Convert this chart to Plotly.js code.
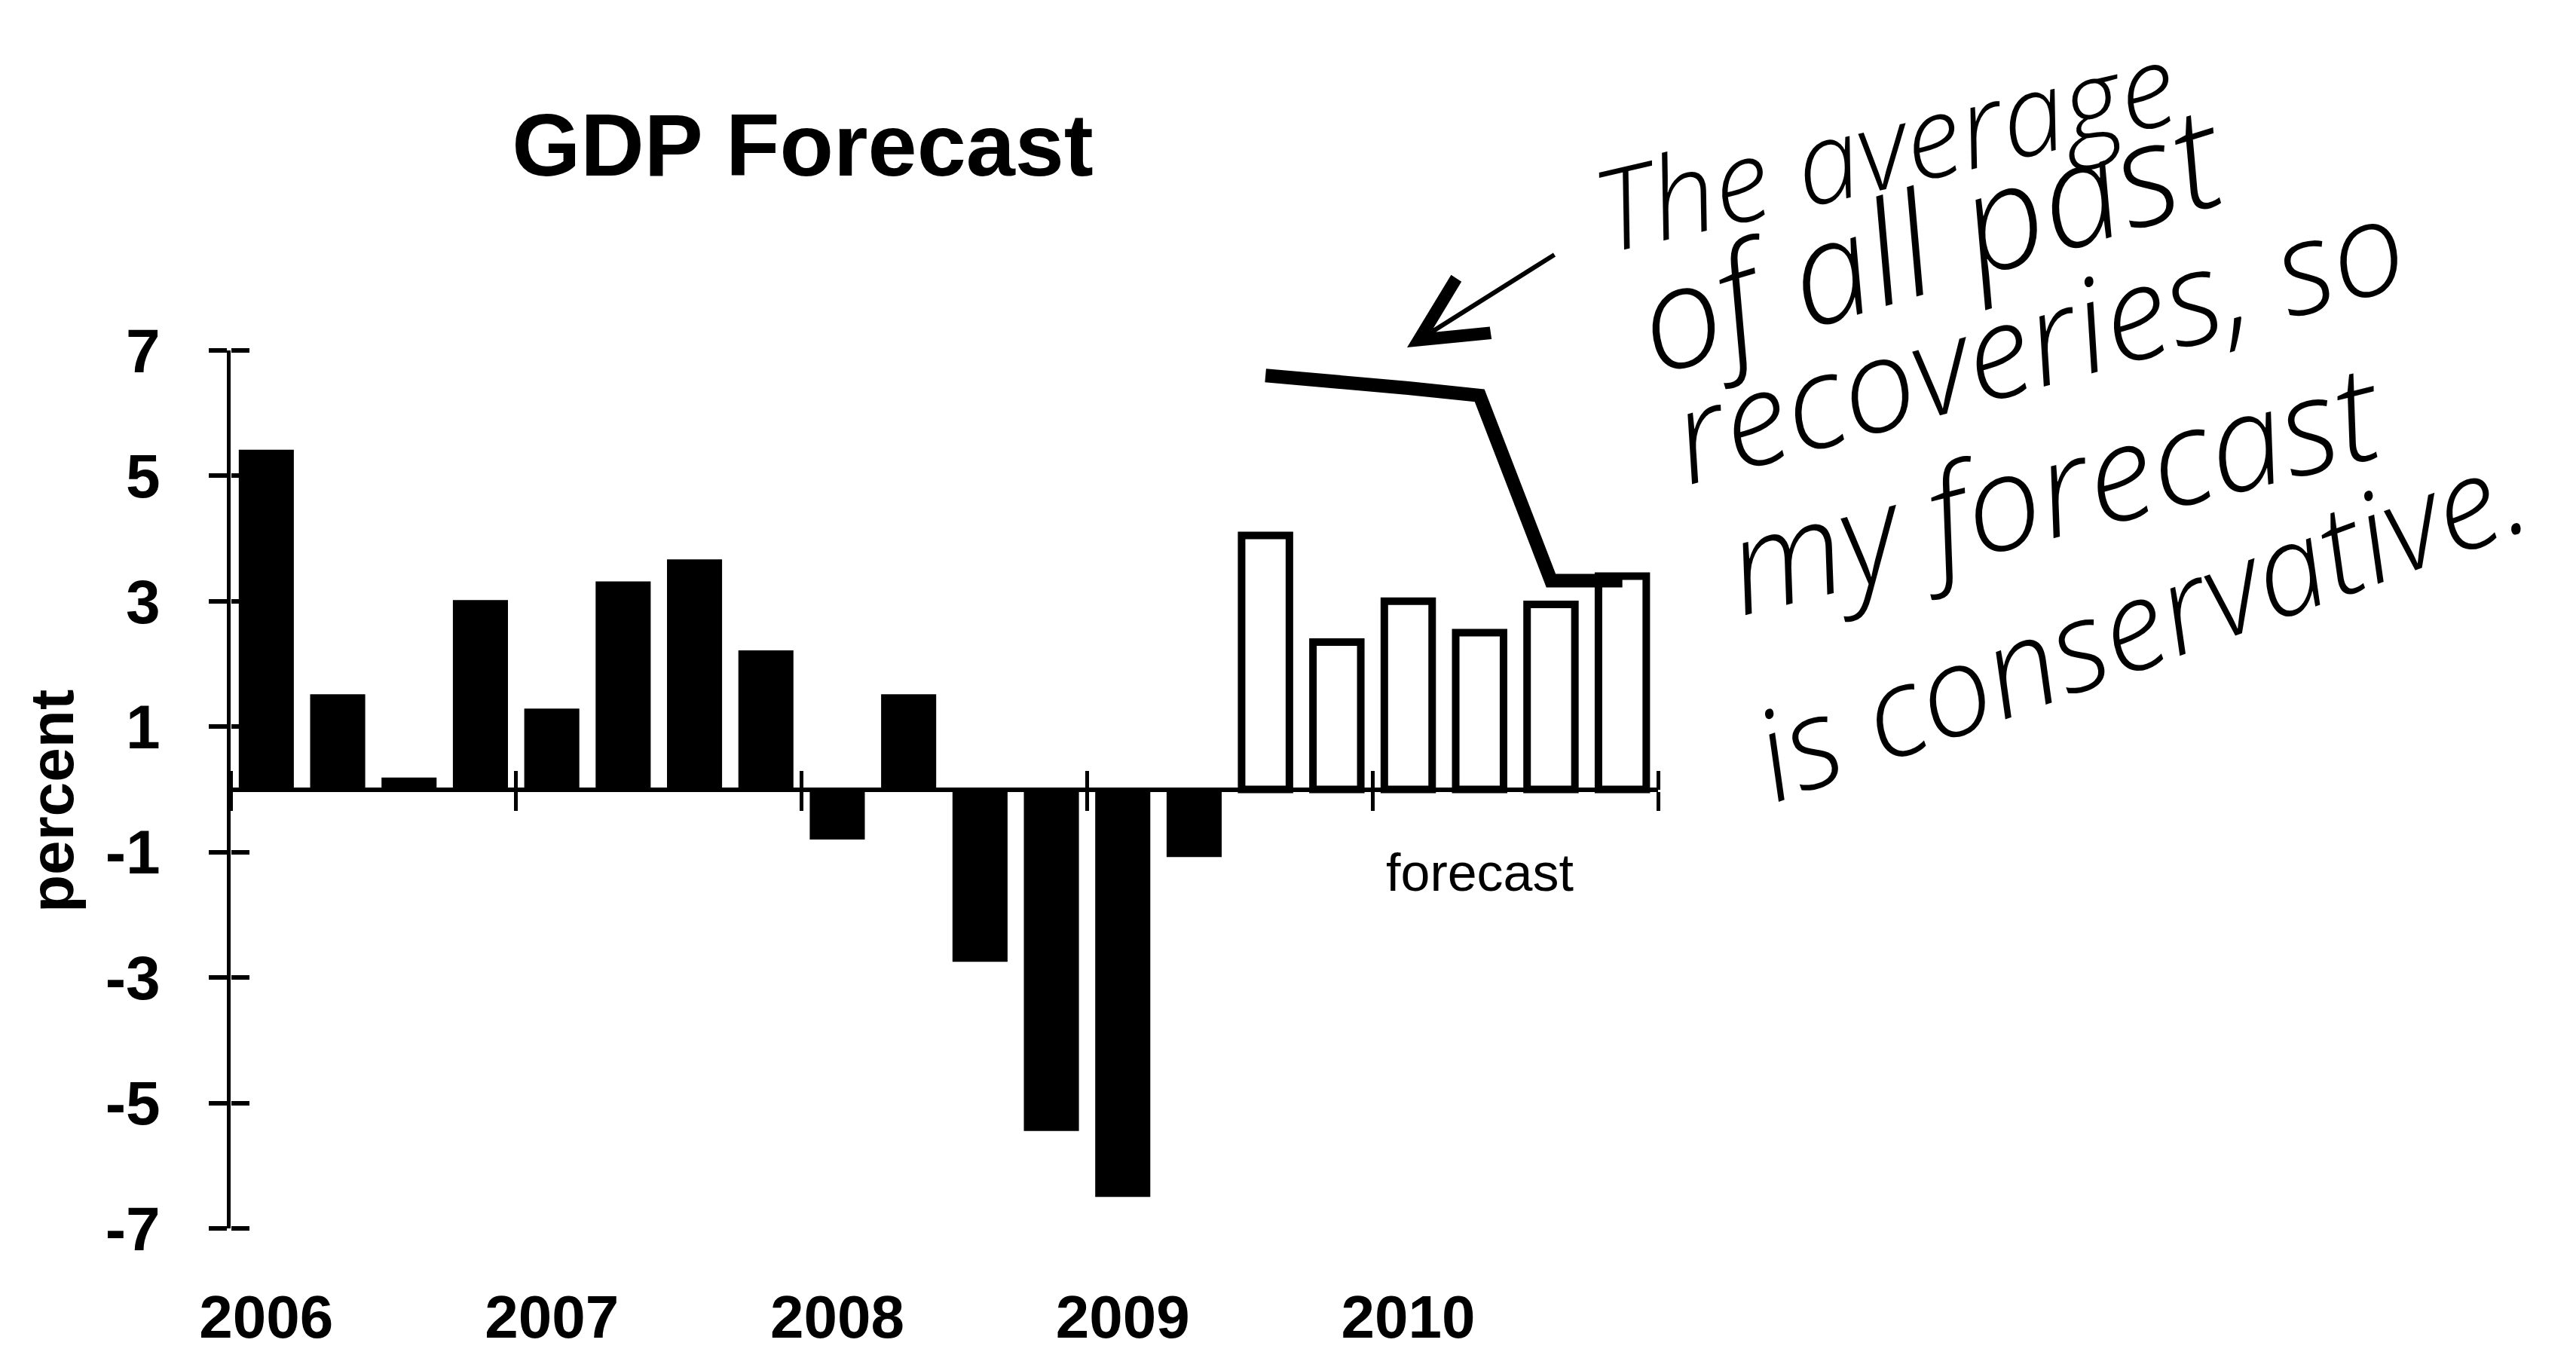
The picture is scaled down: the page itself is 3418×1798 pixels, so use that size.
<!DOCTYPE html>
<html>
<head>
<meta charset="utf-8">
<script src="https://cdn.plot.ly/plotly-3.0.1.min.js"></script>
<style>
  html, body { margin: 0; padding: 0; background: #ffffff; }
  #chart { width: 3418px; height: 1798px; }
</style>
</head>
<body>
<div id="chart"></div>
<script>
// ---- data ----
const quarters = [
  '2006Q1','2006Q2','2006Q3','2006Q4',
  '2007Q1','2007Q2','2007Q3','2007Q4',
  '2008Q1','2008Q2','2008Q3','2008Q4',
  '2009Q1','2009Q2','2009Q3','2009Q4',
  '2010Q1','2010Q2','2010Q3','2010Q4'
];
const actualQuarters = quarters.slice(0, 14);
const actualGrowth = [5.4, 1.5, 0.17, 3.0, 1.27, 3.3, 3.65, 2.2, -0.78, 1.5, -2.73, -5.43, -6.48, -1.06];
const forecastQuarters = quarters.slice(14);
const forecastGrowth = [4.05, 2.35, 3.0, 2.5, 2.95, 3.4];
const pastRecoveryAverage = [6.6, 6.52, 6.4, 6.28, 3.33, 3.33];
const yearLabels = ['2006', '2007', '2008', '2009', '2010'];
const yTicks = [-7, -5, -3, -1, 1, 3, 5, 7];
const yTickText = ['-7', '-5', '-3', '-1', '1', '3', '5', '7'];
const noteLines = ['The average', 'of all past', 'recoveries, so', 'my forecast', 'is conservative.'];

// ---- layout helpers ----
const W = 3418, H = 1798;
const L = 306, R = 2200, T = 465, B = 1630;
const idx = q => quarters.indexOf(q);
const px = x => (x - L) / (R - L);
const py = y => (B - y) / (B - T);
const xRange = [-0.5, quarters.length - 0.5];
const yRange = [-7, 7];
const zeroPos = (0 - yRange[0]) / (yRange[1] - yRange[0]);
const boundaries = [];
for (let i = 0; i <= quarters.length; i += 4) boundaries.push(i - 0.5);
const yearTickVals = yearLabels.map(y => idx(y + 'Q1'));

const sans = 'Liberation Sans, Arial, sans-serif';
const hand = 'Open Sans, Noto Sans, sans-serif';

const traces = [
  {
    type: 'bar', name: 'actual',
    x: actualQuarters.map(idx), y: actualGrowth,
    width: 0.74,
    marker: { color: '#000000', line: { color: '#000000', width: 3 } },
    hoverinfo: 'skip'
  },
  {
    type: 'bar', name: 'forecast',
    x: forecastQuarters.map(idx), y: forecastGrowth,
    width: 0.67,
    marker: { color: '#ffffff', line: { color: '#000000', width: 10 } },
    hoverinfo: 'skip'
  },
  {
    type: 'scatter', mode: 'lines', name: 'average of past recoveries',
    x: forecastQuarters.map(idx), y: pastRecoveryAverage,
    line: { color: '#000000', width: 18 },
    hoverinfo: 'skip'
  },
  // empty traces that only bring the tick-mark axes into being
  { type: 'scatter', mode: 'markers', x: [], y: [], xaxis: 'x2', yaxis: 'y', hoverinfo: 'skip' },
  { type: 'scatter', mode: 'markers', x: [], y: [], xaxis: 'x3', yaxis: 'y', hoverinfo: 'skip' },
  { type: 'scatter', mode: 'markers', x: [], y: [], xaxis: 'x', yaxis: 'y2', hoverinfo: 'skip' }
];

// handwritten note: [center x, center y, angle, size]
const notePlace = [
  [2500, 192, -13, 150],
  [2560, 312, -17, 188],
  [2703, 446, -15.5, 172],
  [2725, 644, -14, 176],
  [2838, 822, -20, 166]
];

const annotations = [
  {
    text: 'percent', xref: 'paper', yref: 'paper', x: px(68), y: py(1063),
    xanchor: 'center', yanchor: 'middle', textangle: -90, showarrow: false,
    font: { family: sans, size: 82, color: '#000000', weight: 'bold' }
  },
  {
    text: 'forecast', xref: 'x', yref: 'y', x: idx('2010Q2'), y: -1.33,
    xanchor: 'center', yanchor: 'middle', showarrow: false,
    font: { family: sans, size: 70, color: '#000000' }
  },
  {
    text: '', xref: 'paper', yref: 'paper', x: px(1867), y: py(461),
    ax: 197, ay: -124, showarrow: true, arrowhead: 5, arrowsize: 2.8,
    arrowwidth: 6, arrowcolor: '#000000', standoff: 0, startstandoff: 0
  }
];
noteLines.forEach((t, i) => {
  const p = notePlace[i];
  annotations.push({
    text: t, xref: 'paper', yref: 'paper', x: px(p[0]), y: py(p[1]),
    xanchor: 'center', yanchor: 'middle', textangle: p[2], showarrow: false,
    font: { family: hand, size: p[3], color: '#000000', style: 'italic', weight: 300 }
  });
});

const layout = {
  width: W, height: H,
  paper_bgcolor: '#ffffff', plot_bgcolor: '#ffffff',
  margin: { l: L, r: W - R, t: T, b: H - B, pad: 0, autoexpand: false },
  showlegend: false,
  barmode: 'overlay',
  title: {
    text: 'GDP Forecast', xref: 'container', yref: 'container',
    x: 1065 / W, xanchor: 'center', y: 1 - 192 / H, yanchor: 'middle',
    font: { family: sans, size: 117, color: '#000000', weight: 'bold' }
  },
  xaxis: {
    range: xRange, showgrid: false, zeroline: false, showline: false,
    tickmode: 'array', tickvals: yearTickVals, ticktext: yearLabels,
    ticks: 'outside', ticklen: 0, ticklabelstandoff: 48,
    tickfont: { family: sans, size: 80, color: '#000000', weight: 'bold' }
  },
  xaxis2: {
    overlaying: 'x', anchor: 'free', position: zeroPos, side: 'bottom', range: xRange,
    showgrid: false, zeroline: false, showline: true, linecolor: '#000000', linewidth: 6,
    tickmode: 'array', tickvals: boundaries, ticks: 'outside', ticklen: 25,
    tickwidth: 5, tickcolor: '#000000', showticklabels: false
  },
  xaxis3: {
    overlaying: 'x', anchor: 'free', position: zeroPos, side: 'top', range: xRange,
    showgrid: false, zeroline: false, showline: false,
    tickmode: 'array', tickvals: boundaries, ticks: 'outside', ticklen: 25,
    tickwidth: 5, tickcolor: '#000000', showticklabels: false
  },
  yaxis: {
    range: yRange, showgrid: false, zeroline: false,
    showline: true, linecolor: '#000000', linewidth: 5,
    tickmode: 'array', tickvals: yTicks, ticktext: yTickText, ticks: 'outside', ticklen: 24,
    tickwidth: 6, tickcolor: '#000000', ticklabelstandoff: 48,
    tickfont: { family: sans, size: 82, color: '#000000', weight: 'bold' }
  },
  yaxis2: {
    overlaying: 'y', anchor: 'free', position: 0, side: 'right', range: yRange,
    showgrid: false, zeroline: false, showline: false,
    tickmode: 'array', tickvals: yTicks, ticks: 'outside', ticklen: 24,
    tickwidth: 6, tickcolor: '#000000', showticklabels: false
  },
  annotations: annotations
};

Plotly.newPlot('chart', traces, layout, { staticPlot: true, displayModeBar: false });
</script>
</body>
</html>
